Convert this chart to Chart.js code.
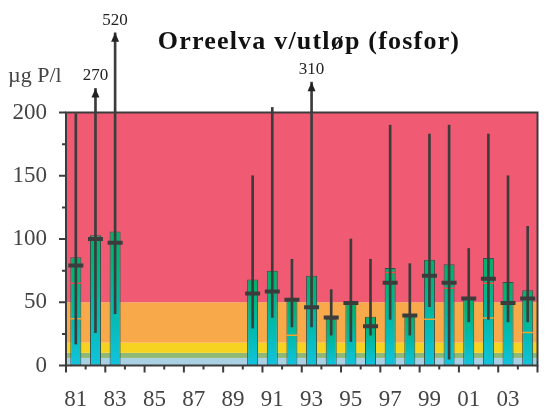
<!DOCTYPE html>
<html>
<head>
<meta charset="utf-8">
<script src="https://cdn.jsdelivr.net/npm/chart.js@4.4.1/dist/chart.umd.min.js"></script>
<style>
  html, body { margin: 0; padding: 0; background: #fff; }
</style>
</head>
<body>
<canvas id="fosforChart" width="549" height="414"></canvas>
<script>
// years 1981 - 2004, no samples 84-89
var years = ['81','82','83','84','85','86','87','88','89','90','91','92',
             '93','94','95','96','97','98','99','00','01','02','03','04'];

// yearly mean (bar), median (thick mark), min / max (vertical line)
var meanValues   = [85.5, 103, 106, null, null, null, null, null, null,
                    68, 75, 53.5, 71, 37, 49, 38.5, 77, 40, 83.5, 80, 54, 85, 66, 59.5];
var medianValues = [79, 100, 97, null, null, null, null, null, null,
                    57, 58.5, 52, 46, 38, 49.5, 31, 65.5, 39.5, 71, 65.5, 53, 68.5, 49.5, 53];
var minValues    = [17, 26, 41, null, null, null, null, null, null,
                    29.5, 38, 30.5, 30.5, 24, 19, 24, 36.5, 24, 46.5, 5, 34.5, 36.5, 34.5, 34.5];
var maxValues    = [199, 270, 520, null, null, null, null, null, null,
                    150, 204, 84, 310, 60, 100, 84, 190, 80.5, 183, 190, 92.5, 183, 150, 110];

// thin marks inside some of the bars
var redMarks    = [65, null, null, null, null, null, null, null, null,
                   null, null, null, null, null, null, null, 73.5, null, null, 61, null, 65, null, null];
var orangeMarks = [37, null, null, null, null, null, null, null, null,
                   null, null, 24, null, null, null, null, null, null, 36.5, null, null, 37.5, null, 26];

// quality classes (µg P/l)
var classLimits = [0, 6, 10, 18, 50, 200];
var classColors = ['#a9d1e3', '#8fb874', '#f6d321', '#f8aa4b', '#f05b73'];

// values above the axis are drawn as arrows ending here
var arrowTips = { '82': 219, '83': 263, '93': 224 };

var serif = "'Liberation Serif', 'Times New Roman', serif";
var dark = '#3c3c3c';

var rangeData = years.map(function(y, i) {
  if (minValues[i] == null) return null;
  var top = arrowTips[y] !== undefined ? arrowTips[y] : maxValues[i];
  return [minValues[i], top];
});

function barGradient(context)
{
  var chart = context.chart;
  var yScale = chart.scales.y;
  if (!chart.chartArea || !yScale || context.raw == null) return '#00b9a0';
  var top = yScale.getPixelForValue(context.raw);
  var bottom = yScale.getPixelForValue(0);
  var g = chart.ctx.createLinearGradient(0, top, 0, bottom);
  g.addColorStop(0, '#02b06a');
  g.addColorStop(0.25, '#00b47f');
  g.addColorStop(0.55, '#00b9aa');
  g.addColorStop(1, '#12c3dd');
  return g;
}

var backdrop = {
  id: 'backdrop',
  beforeDatasetsDraw: function(chart)
  {
    var ctx = chart.ctx, area = chart.chartArea, y = chart.scales.y;
    ctx.save();
    for (var i = 0; i < classColors.length; i++)
    {
      var top = y.getPixelForValue(classLimits[i + 1]);
      var bottom = y.getPixelForValue(classLimits[i]);
      ctx.fillStyle = classColors[i];
      ctx.fillRect(area.left, top, area.right - area.left, bottom - top);
    }
    ctx.restore();
  },
  afterDatasetsDraw: function(chart)
  {
    var ctx = chart.ctx, area = chart.chartArea;
    var x = chart.scales.x, y = chart.scales.y;
    ctx.save();

    // frame and axis ticks
    ctx.strokeStyle = dark;
    ctx.lineWidth = 2;
    ctx.strokeRect(area.left, area.top, area.right - area.left, area.bottom - area.top);
    ctx.beginPath();
    for (var v = 0; v <= 200; v += 25)
    {
      var py = y.getPixelForValue(v);
      ctx.moveTo(area.left, py);
      ctx.lineTo(area.left - (v % 50 === 0 ? 7 : 4), py);
    }
    var step = (area.right - area.left) / years.length;
    for (var j = 0; j <= years.length; j++)
    {
      var px = area.left + j * step;
      ctx.moveTo(px, area.bottom);
      ctx.lineTo(px, area.bottom + (j % 2 === 0 ? 7 : 4));
    }
    ctx.stroke();

    // arrows for values off the scale
    ctx.fillStyle = '#222';
    ctx.font = '17px ' + serif;
    ctx.textAlign = 'center';
    ctx.textBaseline = 'alphabetic';
    years.forEach(function(yr, i) {
      if (arrowTips[yr] === undefined) return;
      var ax = x.getPixelForValue(i);
      var ay = y.getPixelForValue(arrowTips[yr]);
      ctx.beginPath();
      ctx.moveTo(ax, ay);
      ctx.lineTo(ax - 4, ay + 9);
      ctx.lineTo(ax + 4, ay + 9);
      ctx.closePath();
      ctx.fill();
      ctx.fillText(String(maxValues[i]), ax, ay - 8);
    });

    // title and unit
    ctx.fillStyle = '#111';
    ctx.font = 'bold 26px ' + serif;
    ctx.letterSpacing = '1.2px';
    ctx.fillText('Orreelva v/utløp (fosfor)', 309, 48.5);
    ctx.letterSpacing = '0px';
    ctx.fillStyle = '#444';
    ctx.font = '22px ' + serif;
    ctx.textAlign = 'left';
    ctx.fillText('µg P/l', 8, 81.5);
    ctx.restore();
  }
};

var fosforChart = new Chart(document.getElementById('fosforChart'), {
  type: 'bar',
  data: {
    labels: years,
    datasets: [
      {
        label: 'Middel',
        type: 'bar',
        data: meanValues,
        backgroundColor: barGradient,
        borderColor: '#33504a',
        borderWidth: 1,
        borderSkipped: false,
        barPercentage: 0.56,
        categoryPercentage: 1,
        grouped: false,
        order: 5
      },
      {
        label: 'Rød',
        type: 'line',
        data: redMarks,
        showLine: false,
        pointStyle: 'line',
        pointRadius: 5.5,
        pointHoverRadius: 5.5,
        pointBorderWidth: 1.5,
        pointBorderColor: '#ee4a4a',
        order: 4
      },
      {
        label: 'Oransje',
        type: 'line',
        data: orangeMarks,
        showLine: false,
        pointStyle: 'line',
        pointRadius: 5.5,
        pointHoverRadius: 5.5,
        pointBorderWidth: 1.5,
        pointBorderColor: '#f7a02c',
        order: 3
      },
      {
        label: 'Min-maks',
        type: 'bar',
        data: rangeData,
        backgroundColor: dark,
        borderWidth: 0,
        barThickness: 2,
        grouped: false,
        clip: false,
        order: 2
      },
      {
        label: 'Median',
        type: 'line',
        data: medianValues,
        showLine: false,
        pointStyle: 'line',
        pointRadius: 7.5,
        pointHoverRadius: 7.5,
        pointBorderWidth: 4,
        pointBorderColor: dark,
        order: 1
      }
    ]
  },
  options: {
    responsive: false,
    animation: false,
    devicePixelRatio: 1,
    layout: { padding: { top: 112.5, right: 3, left: 0, bottom: 0 } },
    plugins: { legend: { display: false }, tooltip: { enabled: false }, title: { display: false } },
    scales: {
      x: {
        grid: { display: false, drawTicks: false },
        border: { display: false },
        ticks: {
          autoSkip: false,
          maxRotation: 0,
          padding: 21,
          color: '#444',
          font: { family: serif, size: 23 },
          callback: function(value, index) {
            return index % 2 === 0 ? this.getLabelForValue(value) : '';
          }
        },
        afterFit: function(scale) { scale.height = 48.5; }
      },
      y: {
        min: 0,
        max: 200,
        grid: { display: false, drawTicks: false },
        border: { display: false },
        ticks: {
          stepSize: 50,
          padding: 19,
          color: '#444',
          font: { family: serif, size: 23 }
        },
        afterFit: function(scale) { scale.width = 66; }
      }
    }
  },
  plugins: [backdrop]
});
</script>
</body>
</html>
